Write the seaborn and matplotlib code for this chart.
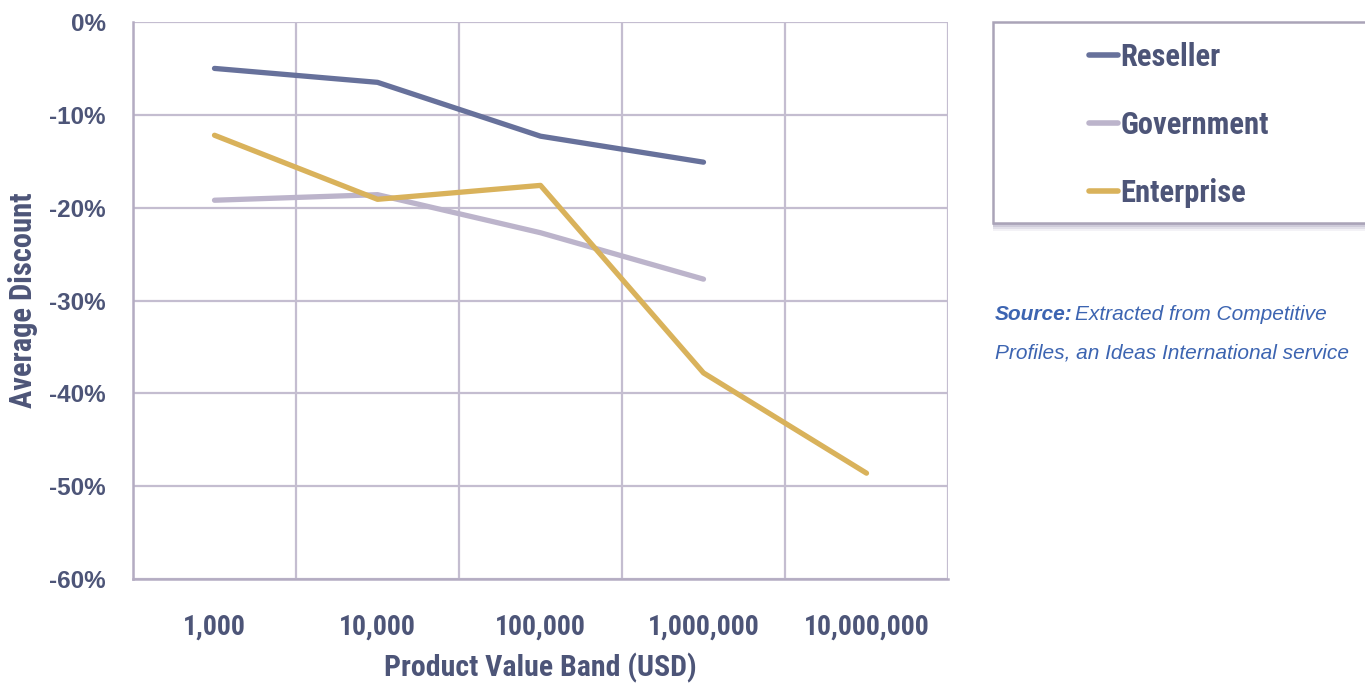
import matplotlib
matplotlib.use("Agg")
import matplotlib.pyplot as plt
from matplotlib import font_manager
from matplotlib.patches import Rectangle
import numpy as np
import pandas as pd
import seaborn as sns

# Product value bands (USD) and average discount (%) per channel
bands = ["1,000", "10,000", "100,000", "1,000,000", "10,000,000"]
reseller = [-5.0, -6.5, -12.3, -15.1]
government = [-19.2, -18.6, -22.7, -27.7]
enterprise = [-12.2, -19.1, -17.6, -37.8, -48.6]
series_names = ["Reseller", "Government", "Enterprise"]
y_ticks = [0, -10, -20, -30, -40, -50, -60]

colors = {"Reseller": "#67719b", "Government": "#bcb4cb", "Enterprise": "#d9b25b"}
text_color = "#4d5578"
grid_color = "#c4bdd0"
source_color = "#3c64b1"

frames = []
for name, vals in zip(series_names, [reseller, government, enterprise]):
    frames.append(pd.DataFrame({"band": bands[:len(vals)],
                                "discount": vals,
                                "series": name}))
df = pd.concat(frames, ignore_index=True)

# prefer a condensed sans; otherwise a regular one at a size giving similar widths
installed = {f.name for f in font_manager.fontManager.ttflist}
narrow = next((n for n in ["Liberation Sans Narrow", "Arial Narrow",
                           "Roboto Condensed", "Open Sans Condensed"]
               if n in installed), None)
scale = 1.0 if narrow else 18 / 22
label_font = narrow or "Liberation Sans"

sns.set_theme(style="white")
plt.rcParams["font.family"] = [label_font, "DejaVu Sans"]
plt.rcParams["font.weight"] = "bold"

fig = plt.figure(figsize=(13.65, 6.88), dpi=100)
W, H = 1365, 688
ax = fig.add_axes([133 / W, 1 - 579 / H, (948 - 133) / W, (579 - 22) / H])

# lock the category order on the x axis before drawing
ax.plot(bands, [np.nan] * len(bands))

sns.lineplot(data=df, x="band", y="discount", hue="series",
             hue_order=series_names, palette=colors, sort=False,
             linewidth=3.8, ax=ax, legend=True)
for ln in ax.get_lines():
    ln.set_solid_capstyle("round")
    ln.set_solid_joinstyle("round")

ax.set_xlim(-0.5, len(bands) - 0.5)
ax.set_ylim(-60, 0)
ax.set_xticks(np.arange(len(bands)))
ax.set_xticklabels(bands)
ax.set_xticks(np.arange(len(bands) + 1) - 0.5, minor=True)
ax.set_yticks(y_ticks)
ax.set_yticklabels([f"{t}%" for t in y_ticks])

ax.grid(False)
ax.grid(which="minor", axis="x", color=grid_color, linewidth=1.6)
ax.grid(which="major", axis="y", color=grid_color, linewidth=1.6)
ax.set_axisbelow(True)

ax.tick_params(axis="x", which="both", length=0, pad=25,
               labelsize=20 * scale, labelcolor=text_color)
ax.tick_params(axis="y", which="major", length=6.5, width=1.6,
               color=grid_color, direction="out", pad=13,
               labelcolor=text_color)
for lab in ax.get_yticklabels():
    lab.set_fontfamily(["Liberation Sans", "DejaVu Sans"])
    lab.set_fontweight("bold")
    lab.set_fontsize(17.5)
for lab in ax.get_xticklabels():
    lab.set_fontweight("bold")

for side in ["top", "right"]:
    ax.spines[side].set_visible(False)
for side in ["left", "bottom"]:
    ax.spines[side].set_color("#b4acc2")
    ax.spines[side].set_linewidth(1.8)

ax.set_xlabel("Product Value Band (USD)", fontsize=21.5 * scale,
              fontweight="bold", color=text_color, labelpad=9)
ax.set_ylabel("Average Discount", fontsize=22 * scale, fontweight="bold",
              color=text_color, labelpad=8)

# legend panel with a soft drop shadow
for k, a in enumerate([0.10, 0.16, 0.22, 0.30]):
    off = 8 - 2 * k
    fig.add_artist(Rectangle((993 / W, 1 - (223 + off) / H),
                             (W + 20 - 993) / W, (223 + off - 30) / H,
                             transform=fig.transFigure, facecolor="#8f87a8",
                             alpha=a, edgecolor="none", zorder=1))
panel = Rectangle((993 / W, 1 - 223 / H), (W + 20 - 993) / W, (223 - 22) / H,
                  transform=fig.transFigure, facecolor="white",
                  edgecolor="#aaa4b8", linewidth=1.8, zorder=2)
fig.add_artist(panel)

handles, labels = ax.get_legend_handles_labels()
ax.get_legend().remove()
leg = fig.legend(handles, labels, loc="center left",
                 bbox_to_anchor=(1061 / W, 1 - 125 / H),
                 frameon=False, fontsize=22 * scale, handlelength=0.97,
                 handletextpad=0.08, labelspacing=1.24, borderpad=0.4,
                 labelcolor=text_color)
leg.set_zorder(3)
for h in leg.legend_handles:
    h.set_linewidth(4)
for t in leg.get_texts():
    t.set_fontweight("bold")

src_family = ["Liberation Sans", "DejaVu Sans"]
fig.text(995 / W, 1 - 315 / H, "Source:", fontsize=15, fontstyle="italic",
         fontweight="bold", color=source_color, va="center", family=src_family)
fig.text(1075 / W, 1 - 315 / H, "Extracted from Competitive", fontsize=15,
         fontstyle="italic", fontweight="normal", color=source_color,
         va="center", family=src_family)
fig.text(995 / W, 1 - 353 / H, "Profiles, an Ideas International service",
         fontsize=15, fontstyle="italic", fontweight="normal",
         color=source_color, va="center", family=src_family)

fig.savefig("out.png", dpi=100, facecolor="white")
